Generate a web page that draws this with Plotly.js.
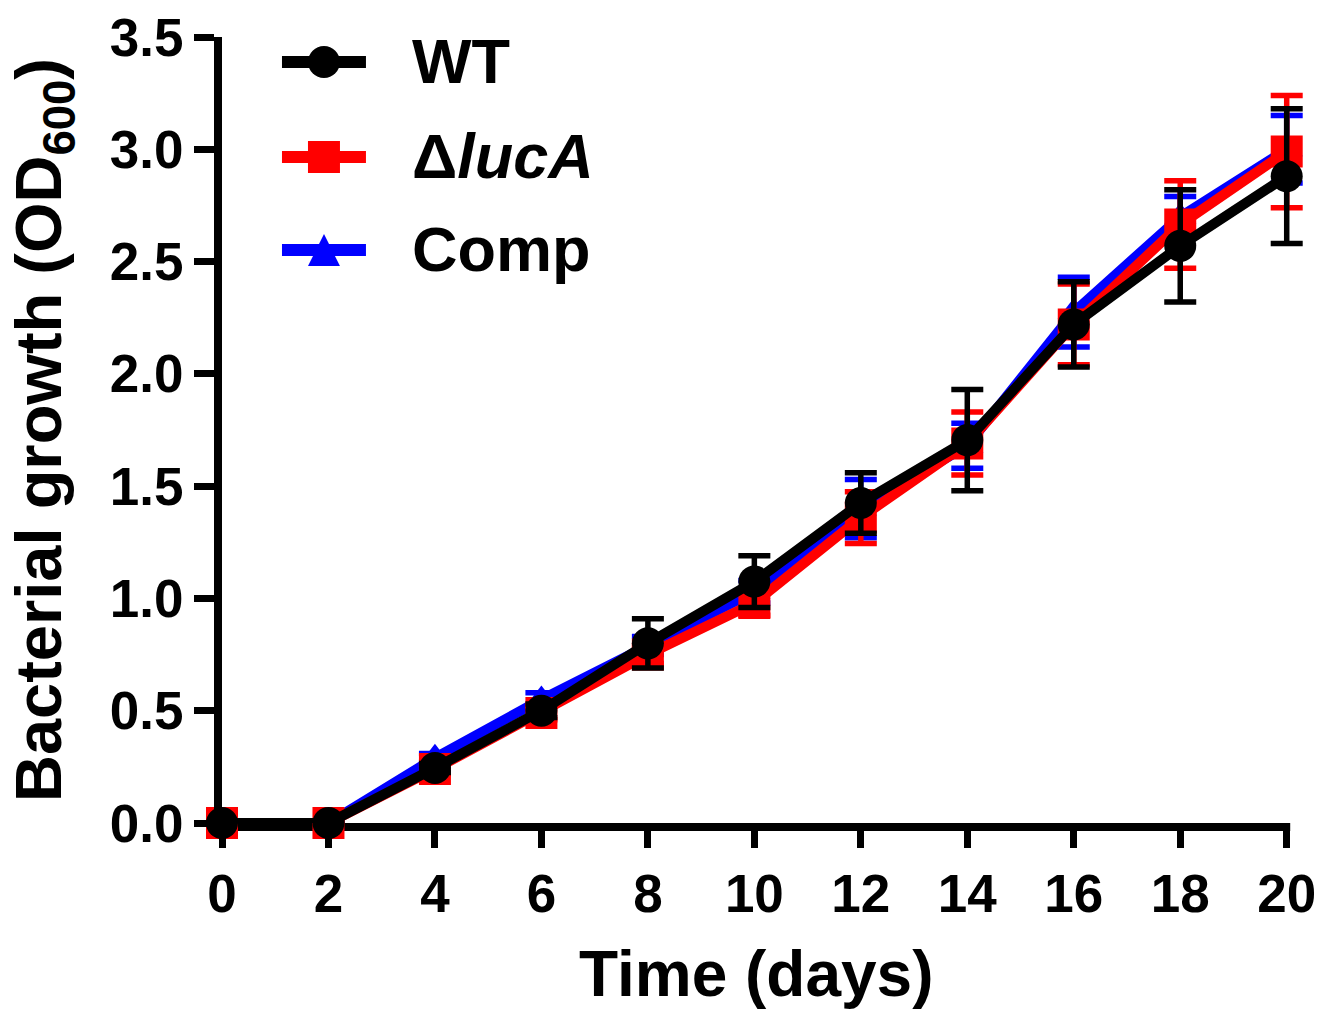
<!DOCTYPE html>
<html>
<head>
<meta charset="utf-8">
<script src="https://cdn.plot.ly/plotly-3.0.1.min.js"></script>
<style>html,body{margin:0;padding:0;background:#fff;}#chart{width:1325px;height:1010px;}</style>
</head>
<body>
<div id="chart"></div>
<script>
const days = [0, 2, 4, 6, 8, 10, 12, 14, 16, 18, 20];
const wtValues = [0, 0, 0.245, 0.50, 0.80, 1.075, 1.425, 1.705, 2.22, 2.57, 2.88];
const wtErrors = [0, 0, 0.02, 0.03, 0.11, 0.115, 0.135, 0.225, 0.19, 0.25, 0.30];
const lucValues = [0, 0, 0.24, 0.49, 0.75, 0.98, 1.36, 1.69, 2.22, 2.665, 2.99];
const lucErrors = [0, 0, 0.02, 0.03, 0.04, 0.055, 0.115, 0.14, 0.18, 0.195, 0.25];
const compValues = [0, 0, 0.29, 0.55, 0.79, 1.03, 1.40, 1.68, 2.275, 2.70, 3.00];
const compErrors = [0, 0, 0.02, 0.03, 0.04, 0.05, 0.13, 0.10, 0.155, 0.09, 0.15];
const seriesNames = ['WT', '\u0394<i>lucA</i>', 'Comp'];
const seriesColors = ['#000000', '#ff0000', '#0000ff'];
const xTickVals = [0, 2, 4, 6, 8, 10, 12, 14, 16, 18, 20];
const yTickVals = [0, 0.5, 1.0, 1.5, 2.0, 2.5, 3.0, 3.5];
const xTitle = 'Time (days)';
const yTitle = 'Bacterial growth (OD<sub>600</sub>)';

const FONT = 'Arial, "Liberation Sans", sans-serif';
const W = 1325, H = 1010;
// x axis spans 0..20 visually; a little extra room on the right keeps the last error-bar caps unclipped
const X_LAST = 20, X_PAD = 0.4;
const LEFT = 222, X20 = 1287;
const unit = (X20 - LEFT) / X_LAST;
const M = {l: LEFT, r: W - (X20 + X_PAD * unit), t: 37, b: 187};
const PW = W - M.l - M.r, PH = H - M.t - M.b;
// pixel -> paper helpers (layout positioning only)
const px = X => (X - M.l) / PW;
const py = Y => (H - M.b - Y) / PH;

function errBar(arr, color) {
  return {type: 'data', array: arr, visible: true, color: color, thickness: 5.5, width: 16};
}

const traces = [
  {
    x: days, y: compValues, name: seriesNames[2], mode: 'lines+markers',
    line: {color: seriesColors[2], width: 10},
    marker: {symbol: 'triangle-up', size: 28, color: seriesColors[2]},
    error_y: errBar(compErrors, seriesColors[2]), cliponaxis: false, showlegend: false
  },
  {
    x: days, y: lucValues, name: seriesNames[1], mode: 'lines+markers',
    line: {color: seriesColors[1], width: 10},
    marker: {symbol: 'square', size: 32, color: seriesColors[1]},
    error_y: errBar(lucErrors, seriesColors[1]), cliponaxis: false, showlegend: false
  },
  {
    x: days, y: wtValues, name: seriesNames[0], mode: 'lines+markers',
    line: {color: seriesColors[0], width: 10},
    marker: {symbol: 'circle', size: 32, color: seriesColors[0]},
    error_y: errBar(wtErrors, seriesColors[0]), cliponaxis: false, showlegend: false
  }
];

const shapes = [];
const annotations = [];

// x-axis line, ending at the last tick (like the original)
shapes.push({type: 'line', xref: 'paper', yref: 'paper', layer: 'below',
             x0: px(LEFT - 8), x1: px(X20 + 3.5), y0: py(H - M.b + 4), y1: py(H - M.b + 4),
             line: {color: '#000', width: 8}});

// x-axis title, centred under the 0..20 span
annotations.push({xref: 'paper', yref: 'paper', x: px((LEFT + X20) / 2 + 2), y: py(974), xanchor: 'center', yanchor: 'middle',
                  text: xTitle, showarrow: false, font: {family: FONT, size: 64, weight: 700, color: '#000'}});

// Manual legend (large symbols like the original)
const legendRows = [62, 157, 250];
const lineX0 = 282, lineX1 = 366, symX = 324, textX = 410, r = 16;
legendRows.forEach((Y, i) => {
  const c = seriesColors[i];
  shapes.push({type: 'line', xref: 'paper', yref: 'paper', x0: px(lineX0), x1: px(lineX1), y0: py(Y), y1: py(Y),
               line: {color: c, width: 12}});
  if (i === 0) {
    shapes.push({type: 'circle', xref: 'paper', yref: 'paper', x0: px(symX - r), x1: px(symX + r), y0: py(Y + r), y1: py(Y - r),
                 fillcolor: c, line: {color: c, width: 0}});
  } else if (i === 1) {
    shapes.push({type: 'rect', xref: 'paper', yref: 'paper', x0: px(symX - r), x1: px(symX + r), y0: py(Y + r), y1: py(Y - r),
                 fillcolor: c, line: {color: c, width: 0}});
  } else {
    const path = 'M ' + px(symX - r) + ' ' + py(Y + r) + ' L ' + px(symX + r) + ' ' + py(Y + r) +
                 ' L ' + px(symX) + ' ' + py(Y - r) + ' Z';
    shapes.push({type: 'path', xref: 'paper', yref: 'paper', path: path, fillcolor: c, line: {color: c, width: 0}});
  }
  annotations.push({xref: 'paper', yref: 'paper', x: px(textX), y: py(Y - 1), xanchor: 'left', yanchor: 'middle',
                    text: seriesNames[i], showarrow: false,
                    font: {family: FONT, size: 63, weight: 700, color: '#000'}});
});

const layout = {
  width: W, height: H,
  margin: M,
  paper_bgcolor: '#ffffff', plot_bgcolor: '#ffffff',
  font: {family: FONT, color: '#000000'},
  showlegend: false,
  shapes: shapes,
  annotations: annotations,
  xaxis: {
    range: [0, X_LAST + X_PAD], tickvals: xTickVals, ticktext: xTickVals.map(String),
    showgrid: false, zeroline: false,
    showline: false,
    ticks: 'outside', ticklen: 24, tickwidth: 7, tickcolor: '#000',
    tickfont: {family: FONT, size: 53, weight: 700, color: '#000'}
  },
  yaxis: {
    range: [0, 3.5], tickvals: yTickVals, ticktext: yTickVals.map(v => v.toFixed(1)),
    showgrid: false, zeroline: false,
    showline: true, linecolor: '#000', linewidth: 8,
    ticks: 'outside', ticklen: 20, tickwidth: 7, tickcolor: '#000',
    tickfont: {family: FONT, size: 53, weight: 700, color: '#000'},
    title: {text: yTitle, font: {family: FONT, size: 65, weight: 700, color: '#000'}, standoff: 30}
  }
};

Plotly.newPlot('chart', traces, layout, {displayModeBar: false, staticPlot: true});
</script>
</body>
</html>
